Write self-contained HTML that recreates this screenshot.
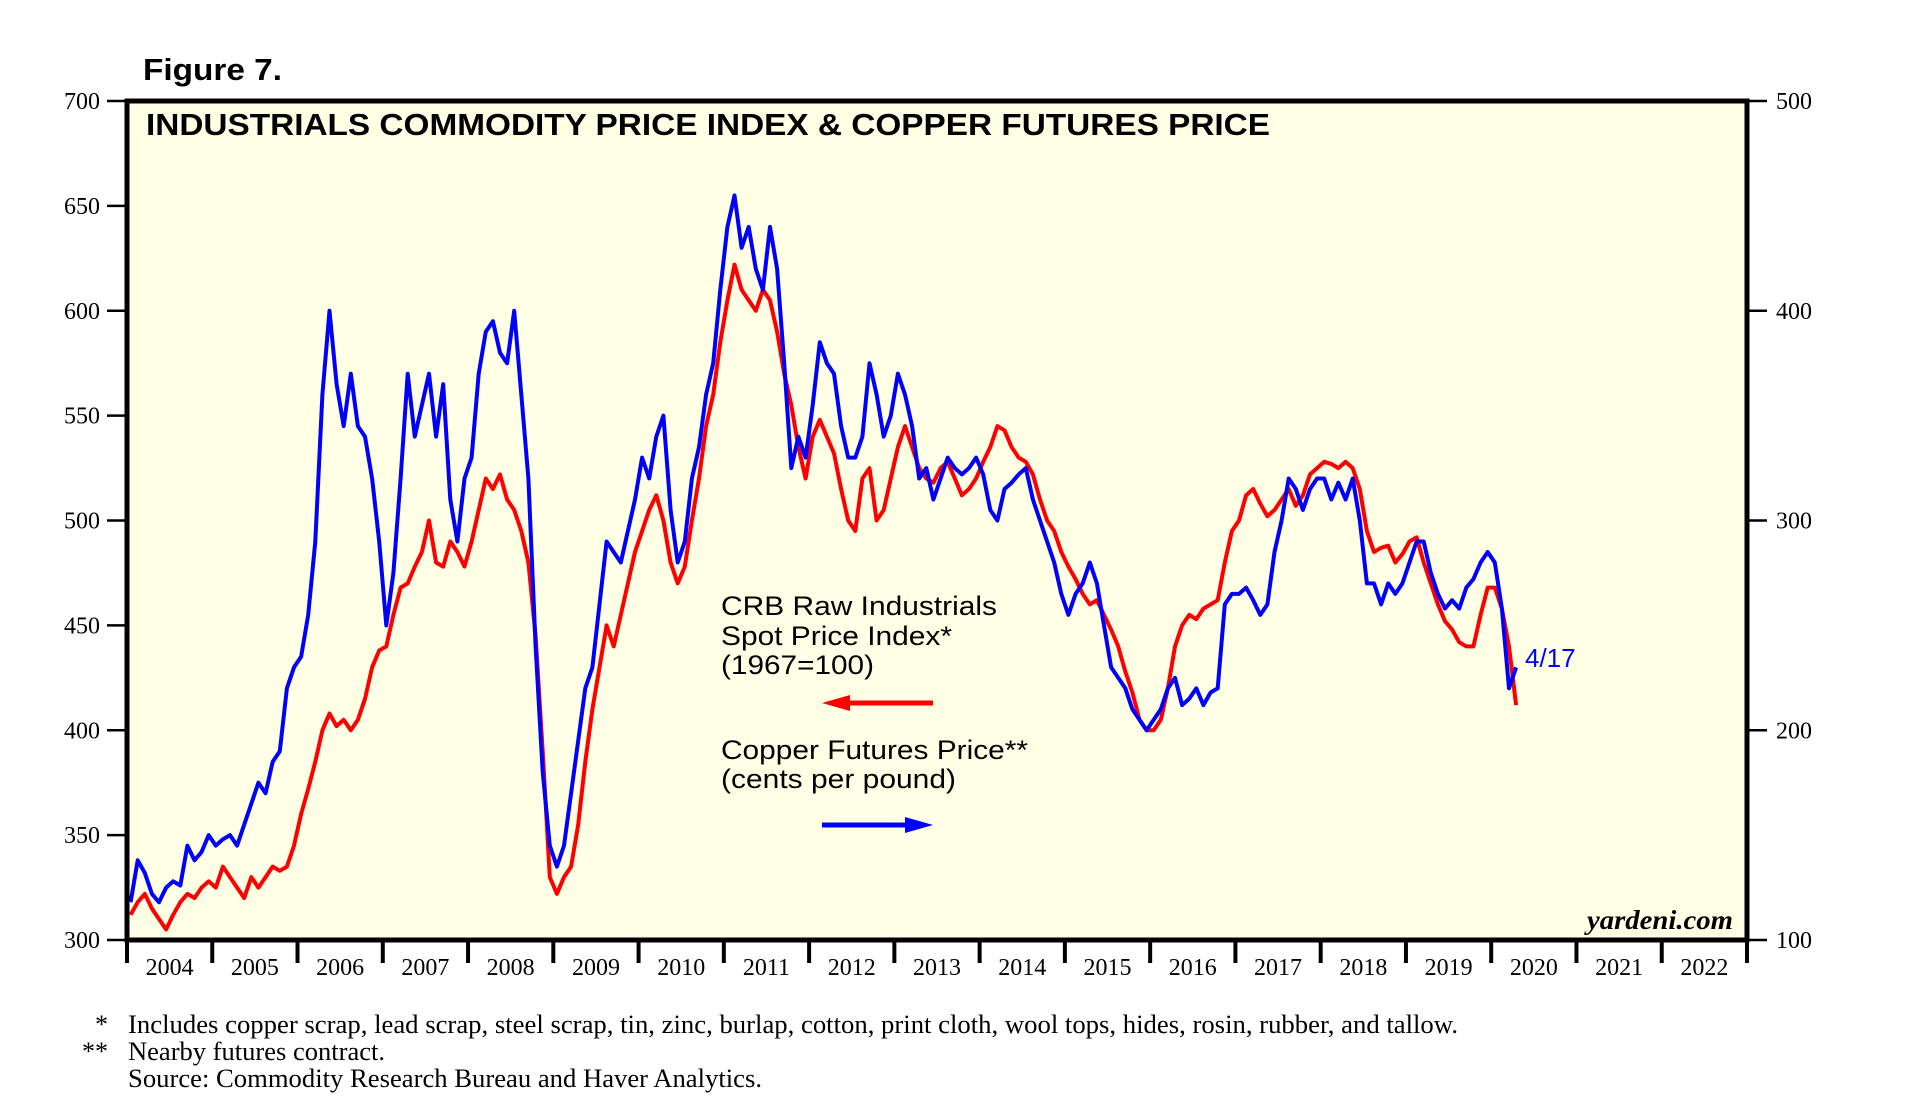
<!DOCTYPE html>
<html><head><meta charset="utf-8"><style>
html,body{margin:0;padding:0;background:#fff;}
svg{display:block;}
</style></head><body>
<svg id="chart" width="1906" height="1108" xmlns="http://www.w3.org/2000/svg" font-family="Liberation Sans, sans-serif">
<text x="143" y="80" font-size="31" font-weight="bold" textLength="139" lengthAdjust="spacingAndGlyphs">Figure 7.</text>
<rect x="127" y="101" width="1620" height="839" fill="#FFFFE6"/>
<text x="146" y="135" font-size="31" font-weight="bold" textLength="1124" lengthAdjust="spacingAndGlyphs">INDUSTRIALS COMMODITY PRICE INDEX &amp; COPPER FUTURES PRICE</text>
<g id="axes"></g>
<g id="series"></g>
<rect x="127" y="101" width="1620" height="839" fill="none" stroke="#000" stroke-width="5"/>
<g font-size="27" fill="#000">
<text x="721" y="615" textLength="276" lengthAdjust="spacingAndGlyphs">CRB Raw Industrials</text>
<text x="721" y="645" textLength="231" lengthAdjust="spacingAndGlyphs">Spot Price Index*</text>
<text x="721" y="674" textLength="153" lengthAdjust="spacingAndGlyphs">(1967=100)</text>
</g>
<g><line x1="845" y1="703" x2="933" y2="703" stroke="#f00" stroke-width="5"/><polygon points="822,703 850,695 850,711" fill="#f00"/></g>
<g font-size="27" fill="#000">
<text x="721" y="759" textLength="307" lengthAdjust="spacingAndGlyphs">Copper Futures Price**</text>
<text x="721" y="788" textLength="235" lengthAdjust="spacingAndGlyphs">(cents per pound)</text>
</g>
<g><line x1="822" y1="825" x2="910" y2="825" stroke="#00f" stroke-width="5"/><polygon points="933,825 905,817 905,833" fill="#00f"/></g>
<text x="1525" y="667" font-size="26" fill="#00f">4/17</text>
<text x="1733" y="929" font-size="27" font-weight="bold" font-style="italic" text-anchor="end" font-family="Liberation Serif, serif" textLength="146" lengthAdjust="spacingAndGlyphs">yardeni.com</text>
<g font-family="Liberation Serif, serif" font-size="26">
<text x="108" y="1033" text-anchor="end">*</text>
<text x="108" y="1060" text-anchor="end">**</text>
<text x="128" y="1033" textLength="1330" lengthAdjust="spacingAndGlyphs">Includes copper scrap, lead scrap, steel scrap, tin, zinc, burlap, cotton, print cloth, wool tops, hides, rosin, rubber, and tallow.</text>
<text x="128" y="1060" textLength="257" lengthAdjust="spacingAndGlyphs">Nearby futures contract.</text>
<text x="128" y="1087" textLength="634" lengthAdjust="spacingAndGlyphs">Source: Commodity Research Bureau and Haver Analytics.</text>
</g>
</svg>
<script>
const years = [2004,2005,2006,2007,2008,2009,2010,2011,2012,2013,2014,2015,2016,2017,2018,2019,2020,2021,2022];
const leftTicks = [300,350,400,450,500,550,600,650,700];
const rightTicks = [100,200,300,400,500];
const startYear = 2004;
// CRB Raw Industrials, monthly from Jan 2004
const crbValues = [
312,318,322,315,310,305,312,318,322,320,325,328,
325,335,330,325,320,330,325,330,335,333,335,345,
360,372,385,400,408,402,405,400,405,415,430,438,
440,455,468,470,478,485,500,480,478,490,485,478,
490,505,520,515,522,510,505,495,480,445,390,330,
322,330,335,355,385,410,430,450,440,455,470,485,
495,505,512,500,480,470,478,500,520,545,560,585,
605,622,610,605,600,610,605,590,570,555,535,520,
540,548,540,532,515,500,495,520,525,500,505,520,
535,545,535,525,520,518,525,528,520,512,515,520,
528,535,545,543,535,530,528,522,510,500,495,485,
478,472,465,460,462,455,448,440,428,418,405,400,
400,405,420,440,450,455,453,458,460,462,480,495,
500,512,515,508,502,505,510,515,507,512,522,525,
528,527,525,528,525,515,495,485,487,488,480,484,
490,492,480,470,460,452,448,442,440,440,455,468,
468,458,440,412];
// Copper futures, cents per pound, monthly from Jan 2004
const copperValues = [
118,138,132,122,118,125,128,126,145,138,142,150,
145,148,150,145,155,165,175,170,185,190,220,230,
235,255,290,360,400,365,345,370,345,340,320,290,
250,275,320,370,340,355,370,340,365,310,290,320,
330,370,390,395,380,375,400,360,320,240,180,145,
135,145,170,195,220,230,260,290,285,280,295,310,
330,320,340,350,305,280,290,320,335,360,375,410,
440,455,430,440,420,410,440,420,375,325,340,330,
355,385,375,370,345,330,330,340,375,360,340,350,
370,360,345,320,325,310,320,330,325,322,325,330,
322,305,300,315,318,322,325,310,300,290,280,265,
255,265,270,280,270,250,230,225,220,210,205,200,
205,210,220,225,212,215,220,212,218,220,260,265,
265,268,262,255,260,285,300,320,315,305,315,320,
320,310,318,310,320,300,270,270,260,270,265,270,
280,290,290,275,265,258,262,258,268,272,280,285,
280,258,220,230];

const X0=127, X1=1747, Y0=940, Y1=101;
const xScale = t => X0 + (t - startYear) / 19 * (X1 - X0);
const yLeft = v => Y0 - (v - 300) / 400 * (Y0 - Y1);
const yRight = v => Y0 - (v - 100) / 400 * (Y0 - Y1);
const NS = "http://www.w3.org/2000/svg";
const axes = document.getElementById('axes');
const series = document.getElementById('series');
function mk(tag, attrs, parent){
  const e = document.createElementNS(NS, tag);
  for (const k in attrs) e.setAttribute(k, attrs[k]);
  parent.appendChild(e);
  return e;
}
leftTicks.forEach(v => {
  const y = yLeft(v);
  const t = mk('line', {x1:X0-20, x2:X0, y1:y, y2:y, stroke:'#000', 'stroke-width':2.5}, axes);
  
  
  const l = mk('text', {x:X0-27, y:y+8, 'text-anchor':'end', 'font-size':24, 'font-family':'Liberation Serif, serif'}, axes);
  l.textContent = v;
  
  
});
rightTicks.forEach(v => {
  const y = yRight(v);
  const t = mk('line', {x1:X1, x2:X1+20, y1:y, y2:y, stroke:'#000', 'stroke-width':2.5}, axes);
  
  
  const l = mk('text', {x:X1+29, y:y+8, 'font-size':24, 'font-family':'Liberation Serif, serif'}, axes);
  l.textContent = v;
  
  
});
years.forEach(yr => {
  const x = xScale(yr);
  const t = mk('line', {x1:x, x2:x, y1:Y0, y2:Y0+23, stroke:'#000', 'stroke-width':4}, axes);
  
  
  const l = mk('text', {x:xScale(yr+0.5), y:Y0+35, 'text-anchor':'middle', 'font-size':24, 'font-family':'Liberation Serif, serif'}, axes);
  l.textContent = yr;
  
  
});
mk('line', {x1:X1, x2:X1, y1:Y0, y2:Y0+23, stroke:'#000', 'stroke-width':4}, axes);

function pathFor(vals, yf){
  return vals.map((v,i) => (i?'L':'M') + xScale(startYear + (i+0.5)/12).toFixed(1) + ',' + yf(v).toFixed(1)).join(' ');
}
const red = mk('path', {d:pathFor(crbValues, yLeft), fill:'none', stroke:'#f00', 'stroke-width':4, 'stroke-linejoin':'round'}, series);


const blue = mk('path', {d:pathFor(copperValues, yRight), fill:'none', stroke:'#00f', 'stroke-width':4, 'stroke-linejoin':'round'}, series);


</script>
</body></html>
